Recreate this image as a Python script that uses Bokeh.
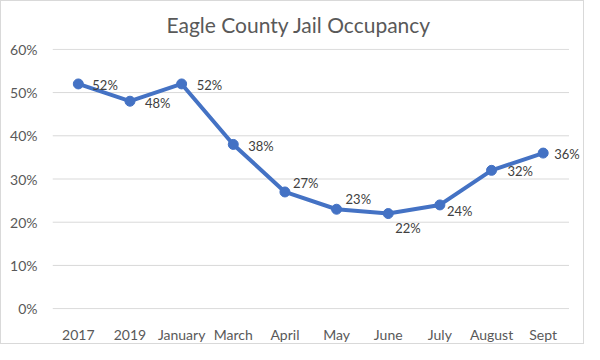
from bokeh.plotting import figure
from bokeh.models import ColumnDataSource, Range1d, NumeralTickFormatter, FixedTicker, LabelSet
from bokeh.core.properties import value
from bokeh.embed import file_html
from bokeh.resources import INLINE

categories = ["2017", "2019", "January", "March", "April", "May", "June", "July", "August", "Sept"]
occupancy = [0.52, 0.48, 0.52, 0.38, 0.27, 0.23, 0.22, 0.24, 0.32, 0.36]
labels = ["52%", "48%", "52%", "38%", "27%", "23%", "22%", "24%", "32%", "36%"]
y_ticks = [0.0, 0.1, 0.2, 0.3, 0.4, 0.5, 0.6]

# label placement offsets (pixels, dy positive = up)
label_dx = [14, 15, 15, 15, 8, 9, 7, 7, 16, 11]
label_dy = [-1, -2, -1, -2, 9, 10, -14, -6, -1, -1]

FONT = "Lato"
BLUE = "#4472C4"

n = len(categories)
x_idx = list(range(n))
source = ColumnDataSource(dict(x=x_idx, y=occupancy, lbl=labels, dx=label_dx, dy=label_dy))

# plot area extends a little right of the last category so the last label is not clipped
p = figure(width=584, height=344, x_range=Range1d(-0.5, n - 0.5 + 0.3), y_range=Range1d(-0.002, 0.602),
           output_backend="svg", toolbar_location=None,
           min_border_left=51, min_border_right=1, min_border_top=45, min_border_bottom=27)

p.title.text = "Eagle County Jail Occupancy"
p.title.text_font = FONT
p.title.text_font_size = "21px"
p.title.text_font_style = "normal"
p.title.text_color = "#595959"
p.title.align = "left"
p.title.vertical_align = "top"
p.title.offset = 114
p.title.standoff = 20

p.outline_line_color = None
p.background_fill_color = "white"
p.border_fill_color = "white"
p.styles = {"border": "1px solid #d9d9d9", "box-sizing": "border-box"}

p.xaxis.ticker = FixedTicker(ticks=x_idx)
p.xaxis.major_label_overrides = {i: c for i, c in zip(x_idx, categories)}
p.yaxis.ticker = FixedTicker(ticks=y_ticks)
p.yaxis.formatter = NumeralTickFormatter(format="0%")
for ax in (p.xaxis, p.yaxis):
    ax.axis_line_color = None
    ax.major_tick_line_color = None
    ax.minor_tick_line_color = None
    ax.major_label_text_font = FONT
    ax.major_label_text_font_size = "14px"
    ax.major_label_text_color = "#595959"
p.yaxis.major_label_standoff = 9
p.xaxis.major_label_standoff = 10

p.xgrid.grid_line_color = None
p.ygrid.grid_line_color = None
p.segment(x0=-0.5, x1=n - 0.5, y0=y_ticks, y1=y_ticks, line_color="#D9D9D9", line_width=1)

p.line("x", "y", source=source, line_color=BLUE, line_width=4)
p.scatter("x", "y", source=source, size=10, fill_color=BLUE, line_color=BLUE)

lbls = LabelSet(x="x", y="y", text="lbl", source=source, x_offset="dx", y_offset="dy",
                text_font=value(FONT), text_font_size=value("13px"), text_color="#404040",
                text_align="left", text_baseline="middle")
p.add_layout(lbls)

open("out.html", "w").write(file_html(p, INLINE))
